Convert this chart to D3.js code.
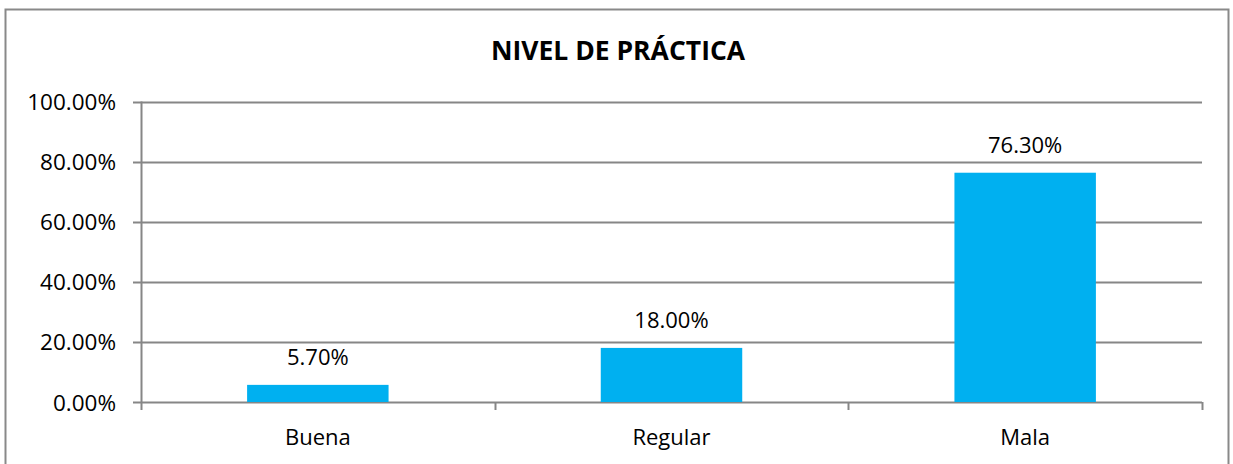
<!DOCTYPE html>
<html lang="es">
<head>
<meta charset="utf-8">
<title>Nivel de práctica</title>
<script src="https://d3js.org/d3.v7.min.js"></script>
<style>
  body { margin: 0; background: #fff; }
  svg text { font-family: 'Open Sans', 'Noto Sans', sans-serif; fill: #000; }
</style>
</head>
<body>
<svg></svg>
<script>
// datos
var categorias = ["Buena", "Regular", "Mala"];
var valores = [5.7, 18.0, 76.3];
var ticksY = [0, 20, 40, 60, 80, 100];

var W = 1233, H = 464;
var margen = { left: 141, right: 31, top: 101.5, bottom: 62 };

var svg = d3.select("svg").attr("width", W).attr("height", H);

// Rahmen
svg.append("rect")
  .attr("x", 5.5).attr("y", 9.5)
  .attr("width", 1223).attr("height", 470)
  .attr("fill", "none").attr("stroke", "#898989").attr("stroke-width", 2);

var x = d3.scaleBand().domain(categorias).range([margen.left, W - margen.right]);
var y = d3.scaleLinear().domain([0, 100]).range([402, margen.top]);

// titulo
svg.append("text")
  .attr("x", 618).attr("y", 60)
  .attr("text-anchor", "middle")
  .style("font-size", "26.5px").style("font-weight", "bold")
  .text("NIVEL DE PRÁCTICA");

// grid + ejes Y
var g = svg.append("g");
g.selectAll("line.grid")
  .data(ticksY)
  .enter().append("line")
  .attr("x1", margen.left - 8).attr("x2", W - margen.right)
  .attr("y1", function (d) { return Math.round(y(d)) + 0.5; })
  .attr("y2", function (d) { return Math.round(y(d)) + 0.5; })
  .attr("stroke", "#868686").attr("stroke-width", 2);

g.selectAll("text.ytick")
  .data(ticksY)
  .enter().append("text")
  .attr("x", 116).attr("y", function (d) { return y(d) + 8.5; })
  .attr("text-anchor", "end")
  .style("font-size", "22.5px")
  .text(function (d) { return d.toFixed(2) + "%"; });

// eje Y
g.append("line")
  .attr("x1", margen.left + 0.5).attr("x2", margen.left + 0.5)
  .attr("y1", y(100)).attr("y2", 410)
  .attr("stroke", "#868686").attr("stroke-width", 2);

// marcas entre categorias
var bordes = categorias.map(function (c) { return x(c) + x.bandwidth(); });
g.selectAll("line.xtick")
  .data(bordes)
  .enter().append("line")
  .attr("x1", function (d) { return Math.round(d) + 0.5; })
  .attr("x2", function (d) { return Math.round(d) + 0.5; })
  .attr("y1", 402).attr("y2", 410)
  .attr("stroke", "#868686").attr("stroke-width", 2);

// barras
var datos = categorias.map(function (c, i) { return { name: c, value: valores[i] }; });
var bw = x.bandwidth() * 0.4;

svg.selectAll(".bar")
  .data(datos)
  .enter().append("rect")
  .attr("class", "bar")
  .attr("x", function (d) { return x(d.name) + (x.bandwidth() - bw) / 2; })
  .attr("width", bw)
  .attr("y", function (d) { return y(d.value); })
  .attr("height", function (d) { return 402 - y(d.value); })
  .attr("fill", "#00B0F0");

svg.selectAll(".lbl")
  .data(datos)
  .enter().append("text")
  .attr("x", function (d) { return x(d.name) + x.bandwidth() / 2; })
  .attr("y", function (d) { return y(d.value) - 20; })
  .attr("text-anchor", "middle")
  .style("font-size", "22px")
  .text(function (d) { return d.value.toFixed(2) + "%"; });

// etiquetas categorias
svg.selectAll(".cat")
  .data(categorias)
  .enter().append("text")
  .attr("x", function (d) { return x(d) + x.bandwidth() / 2; })
  .attr("y", 445)
  .attr("text-anchor", "middle")
  .style("font-size", "22px")
  .text(function (d) { return d; });
</script>
</body>
</html>
